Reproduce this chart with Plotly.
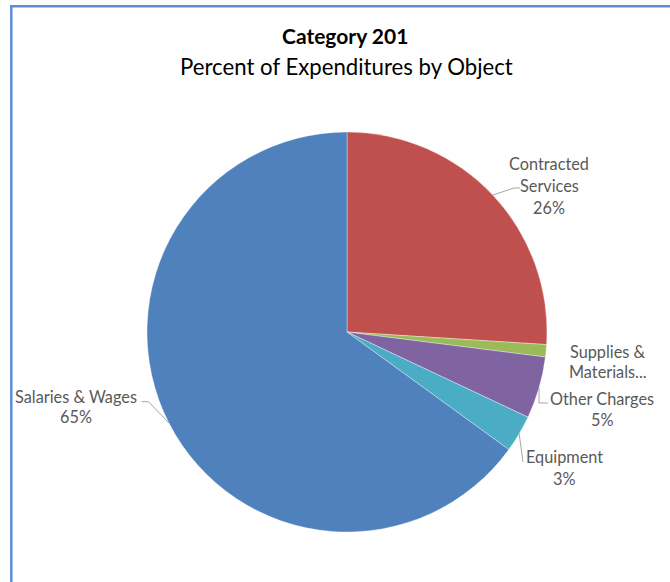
import math
import plotly.graph_objects as go

# Expenditure shares by object (percent), clockwise from 12 o'clock
categories = ["Contracted Services", "Supplies & Materials", "Other Charges", "Equipment", "Salaries & Wages"]
shares = [26, 1, 5, 3, 65]
colors = ["#C0504D", "#9BBB59", "#8064A2", "#4BACC6", "#4F81BD"]

# Label lines as printed next to each slice (percent appended from the data)
label_lines = [
    ["Contracted", "Services"],
    ["Supplies &", "Materials..."],
    ["Other Charges"],
    ["Equipment"],
    ["Salaries & Wages"],
]
show_percent = [True, False, True, True, True]

W, H = 670, 582
CX, CY, R = 347, 332, 200


def px(x):
    return x / W


def py(y):
    return 1 - y / H


fig = go.Figure(
    go.Pie(
        labels=categories,
        values=shares,
        sort=False,
        direction="clockwise",
        rotation=0,
        marker=dict(colors=colors, line=dict(color="rgba(255,255,255,0.6)", width=0.6)),
        textinfo="none",
        hoverinfo="label+percent",
        showlegend=False,
        domain=dict(x=[px(CX - R), px(CX + R)], y=[py(CY + R), py(CY - R)]),
    )
)

# Label placement: (text centre x, first line centre y, line step)
label_pos = [
    (549, 163, 22),
    (608, 351, 21),
    (602, 398, 21),
    (564, 456, 22),
    (76, 396, 20),
]
# Leader-line bends and ends (None = no leader line)
leader_tail = [
    [(514, 188), (520, 188)],
    None,
    [(539, 403), (548, 403)],
    [(523, 462)],
    [(148.5, 401.7), (141.5, 401.7)],
]

annotations = []
shapes = []
total = sum(shares)
cum = 0
for i, v in enumerate(shares):
    mid = (cum + v / 2) / total * 360
    cum += v
    lines = list(label_lines[i])
    if show_percent[i]:
        lines.append(f"{round(v / total * 100)}%")
    x0, y0, step = label_pos[i]
    for k, t in enumerate(lines):
        annotations.append(
            dict(
                x=px(x0), y=py(y0 + k * step), xref="paper", yref="paper",
                text=t, showarrow=False, xanchor="center", yanchor="middle",
                font=dict(family="Lato", size=16.3, color="#595959"),
            )
        )
    if leader_tail[i]:
        sx = CX + R * math.sin(math.radians(mid))
        sy = CY - R * math.cos(math.radians(mid))
        pts = [(sx, sy)] + leader_tail[i]
        path = "M " + " L ".join(f"{px(a):.5f},{py(b):.5f}" for a, b in pts)
        shapes.append(dict(type="path", path=path, xref="paper", yref="paper",
                           line=dict(color="#A6A6A6", width=1)))

# Titles
annotations.append(dict(x=px(345), y=py(35), xref="paper", yref="paper", text="<b>Category 201</b>",
                        showarrow=False, xanchor="center", yanchor="middle",
                        font=dict(family="Lato", size=21, color="#000000")))
annotations.append(dict(x=px(346), y=py(66), xref="paper", yref="paper",
                        text="Percent of Expenditures by Object",
                        showarrow=False, xanchor="center", yanchor="middle",
                        font=dict(family="Lato", size=22.2, color="#000000")))

# Chart-area frame (runs off the right and bottom edges)
shapes.append(dict(type="rect", xref="paper", yref="paper",
                   x0=px(11.3), y0=-0.05, x1=1.05, y1=py(6.2),
                   line=dict(color="#5B8ED7", width=2.5), fillcolor="rgba(0,0,0,0)"))

fig.update_layout(
    width=W, height=H,
    margin=dict(l=0, r=0, t=0, b=0),
    paper_bgcolor="white", plot_bgcolor="white",
    annotations=annotations, shapes=shapes,
)

fig.write_html("out.html")
